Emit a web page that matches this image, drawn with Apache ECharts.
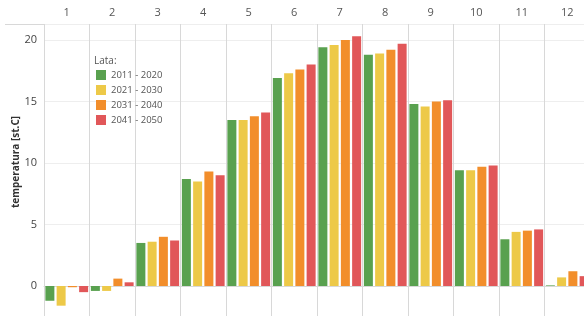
<!DOCTYPE html>
<html>
<head>
<meta charset="utf-8">
<script src="https://cdn.jsdelivr.net/npm/echarts@6/dist/echarts.min.js"></script>
<style>
html, body { margin: 0; padding: 0; background: #fff; }
#chart { width: 584px; height: 316px; }
</style>
</head>
<body>
<div id="chart"></div>
<script>
var months = ['1', '2', '3', '4', '5', '6', '7', '8', '9', '10', '11', '12'];
var periods = ['2011 - 2020', '2021 - 2030', '2031 - 2040', '2041 - 2050'];
var t2011 = [-1.2, -0.4, 3.5, 8.7, 13.5, 16.9, 19.4, 18.8, 14.8, 9.4, 3.8, 0.05];
var t2021 = [-1.6, -0.4, 3.6, 8.5, 13.5, 17.3, 19.6, 18.9, 14.6, 9.4, 4.4, 0.7];
var t2031 = [-0.1, 0.6, 4.0, 9.3, 13.8, 17.6, 20.0, 19.2, 15.0, 9.7, 4.5, 1.2];
var t2041 = [-0.5, 0.3, 3.7, 9.0, 14.1, 18.0, 20.3, 19.7, 15.1, 9.8, 4.6, 0.8];
var colors = ['#59a14f', '#edc948', '#f28e2b', '#e15759'];

var myChart = echarts.init(document.getElementById('chart'));
var font = '"Open Sans", sans-serif';

function bar(name, data) {
    return {
        name: name,
        type: 'bar',
        data: data,
        barWidth: 9,
        barGap: '25%'
    };
}

option = {
    animation: false,
    color: colors,
    textStyle: { fontFamily: font },
    title: {
        text: 'Lata:',
        left: 94,
        top: 56,
        padding: 0,
        textStyle: { fontSize: 10, fontWeight: 'normal', color: '#555', fontFamily: font }
    },
    legend: {
        data: periods,
        orient: 'vertical',
        left: 96,
        top: 70,
        padding: 0,
        icon: 'rect',
        itemWidth: 10,
        itemHeight: 10,
        itemGap: 5,
        textStyle: { fontSize: 9.5, color: '#555', fontFamily: font }
    },
    grid: {
        left: 44,
        width: 546,
        top: 24,
        height: 323.5,
        outerBoundsMode: 'none'
    },
    xAxis: {
        type: 'category',
        position: 'top',
        data: months,
        axisLine: { show: true, lineStyle: { color: '#d8d8d8' } },
        axisTick: { show: true, length: 20, lineStyle: { color: '#d8d8d8' } },
        axisLabel: { fontSize: 11, color: '#555', margin: 6, fontFamily: font },
        splitLine: { show: true, lineStyle: { color: '#d8d8d8' } }
    },
    yAxis: {
        type: 'value',
        min: -5,
        max: 21.3,
        interval: 5,
        axisLine: { show: false },
        axisTick: { show: false },
        axisLabel: { fontSize: 11, color: '#444', margin: 7, fontFamily: font,
            showMaxLabel: false },
        splitLine: { lineStyle: { color: '#eeeeee' } }
    },
    graphic: [
        {
            type: 'line',
            shape: { x1: 5, y1: 24.5, x2: 44, y2: 24.5 },
            style: { stroke: '#d8d8d8', lineWidth: 1 }
        },
        {
            type: 'text',
            x: 16,
            y: 162,
            rotation: Math.PI / 2,
            style: {
                text: 'temperatura [st.C]',
                fontSize: 10,
                fontWeight: 'bold',
                fill: '#333',
                fontFamily: font,
                align: 'center',
                verticalAlign: 'middle'
            }
        }
    ],
    series: [
        bar(periods[0], t2011),
        bar(periods[1], t2021),
        bar(periods[2], t2031),
        bar(periods[3], t2041)
    ]
};
myChart.setOption(option);
</script>
</body>
</html>
